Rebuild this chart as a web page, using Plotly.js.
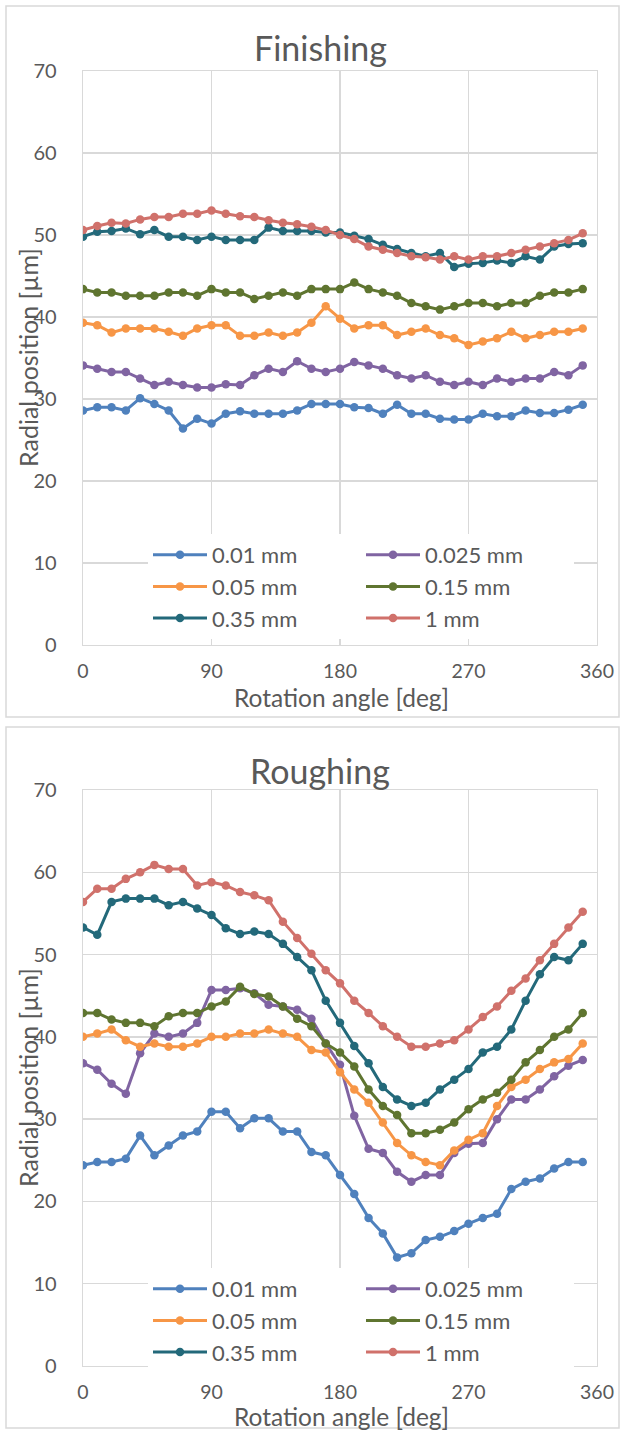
<!DOCTYPE html>
<html>
<head>
<meta charset="utf-8">
<script src="https://cdn.plot.ly/plotly-3.0.1.min.js"></script>
<style>
  html, body { margin: 0; padding: 0; background: #ffffff; }
  #chart { width: 625px; height: 1432px; }
</style>
</head>
<body>
<div id="chart"></div>
<script>
// Rotation angles of the measured points [deg]
const angles = [0, 10, 20, 30, 40, 50, 60, 70, 80, 90, 100, 110, 120, 130, 140, 150, 160, 170,
                180, 190, 200, 210, 220, 230, 240, 250, 260, 270, 280, 290, 300, 310, 320, 330, 340, 350];

const seriesNames = ['0.01 mm', '0.025 mm', '0.05 mm', '0.15 mm', '0.35 mm', '1 mm'];
const seriesColors = ['#4f81bd', '#8064a2', '#f79646', '#5f7530', '#23697a', '#d0716b'];

// Finishing: radial position [µm]
const fin_001 = [28.6, 29.0, 29.0, 28.6, 30.1, 29.4, 28.6, 26.4, 27.6, 27.0, 28.2, 28.5, 28.2, 28.2, 28.2, 28.6, 29.4, 29.4,
                 29.4, 29.0, 28.9, 28.2, 29.3, 28.2, 28.2, 27.6, 27.5, 27.5, 28.2, 27.9, 27.9, 28.6, 28.3, 28.3, 28.7, 29.3];
const fin_0025 = [34.1, 33.7, 33.3, 33.3, 32.5, 31.7, 32.1, 31.7, 31.4, 31.4, 31.8, 31.7, 32.9, 33.7, 33.3, 34.6, 33.7, 33.3,
                  33.7, 34.5, 34.1, 33.7, 32.9, 32.5, 32.9, 32.1, 31.7, 32.1, 31.7, 32.5, 32.1, 32.5, 32.5, 33.3, 32.9, 34.1];
const fin_005 = [39.3, 39.0, 38.1, 38.6, 38.6, 38.6, 38.2, 37.7, 38.6, 39.0, 39.0, 37.7, 37.7, 38.1, 37.7, 38.1, 39.3, 41.3,
                 39.8, 38.6, 39.0, 39.0, 37.8, 38.2, 38.6, 37.8, 37.4, 36.6, 37.0, 37.4, 38.2, 37.4, 37.8, 38.2, 38.2, 38.6];
const fin_015 = [43.4, 43.0, 43.0, 42.6, 42.6, 42.6, 43.0, 43.0, 42.6, 43.4, 43.0, 43.0, 42.2, 42.6, 43.0, 42.6, 43.4, 43.4,
                 43.4, 44.2, 43.4, 43.0, 42.6, 41.7, 41.3, 40.9, 41.3, 41.7, 41.7, 41.3, 41.7, 41.7, 42.6, 43.0, 43.0, 43.4];
const fin_035 = [49.8, 50.4, 50.5, 50.8, 50.1, 50.6, 49.8, 49.8, 49.4, 49.8, 49.4, 49.4, 49.4, 50.9, 50.5, 50.5, 50.5, 50.3,
                 50.3, 49.9, 49.5, 48.8, 48.3, 47.8, 47.4, 47.8, 46.1, 46.5, 46.6, 46.9, 46.6, 47.4, 47.0, 48.6, 48.9, 49.0];
const fin_1 = [50.6, 51.1, 51.5, 51.4, 51.9, 52.2, 52.2, 52.6, 52.6, 53.0, 52.6, 52.3, 52.2, 51.8, 51.5, 51.3, 51.0, 50.6,
               50.0, 49.5, 48.6, 48.2, 47.8, 47.4, 47.3, 47.0, 47.4, 47.0, 47.4, 47.4, 47.8, 48.2, 48.6, 49.0, 49.4, 50.2];

// Roughing: radial position [µm]
const rou_001 = [24.4, 24.8, 24.8, 25.2, 28.0, 25.6, 26.8, 28.0, 28.5, 30.9, 30.9, 28.9, 30.1, 30.1, 28.5, 28.5, 26.0, 25.6,
                 23.2, 20.9, 18.0, 16.1, 13.2, 13.7, 15.3, 15.7, 16.4, 17.3, 18.0, 18.5, 21.5, 22.4, 22.8, 24.0, 24.8, 24.8];
const rou_0025 = [36.8, 36.0, 34.3, 33.1, 38.0, 40.4, 40.0, 40.4, 41.7, 45.7, 45.7, 45.9, 45.3, 43.9, 43.7, 43.3, 42.2, 39.2,
                  36.6, 30.4, 26.4, 25.9, 23.6, 22.4, 23.2, 23.2, 25.9, 27.0, 27.1, 30.0, 32.4, 32.4, 33.6, 35.2, 36.5, 37.2];
const rou_005 = [40.0, 40.4, 40.9, 39.6, 38.8, 39.2, 38.8, 38.8, 39.2, 40.0, 40.0, 40.4, 40.4, 40.9, 40.4, 40.0, 38.4, 38.1,
                 35.7, 33.6, 32.0, 29.6, 27.1, 25.6, 24.8, 24.4, 26.2, 27.5, 28.3, 31.6, 33.9, 34.8, 36.1, 36.9, 37.3, 39.2];
const rou_015 = [42.9, 42.9, 42.1, 41.7, 41.7, 41.3, 42.5, 42.9, 42.9, 43.7, 44.3, 46.1, 45.2, 44.9, 43.7, 42.2, 41.3, 39.2,
                 38.1, 36.4, 33.6, 31.6, 30.5, 28.3, 28.3, 28.7, 29.6, 31.2, 32.4, 33.2, 34.8, 36.9, 38.4, 40.0, 40.9, 42.9];
const rou_035 = [53.3, 52.4, 56.4, 56.8, 56.8, 56.8, 56.0, 56.4, 55.6, 54.8, 53.2, 52.5, 52.8, 52.5, 51.3, 49.7, 48.1, 44.4,
                 41.7, 38.9, 36.8, 33.9, 32.4, 31.6, 32.0, 33.6, 34.8, 36.1, 38.1, 38.8, 40.9, 44.4, 47.6, 49.7, 49.3, 51.3];
const rou_1 = [56.4, 58.0, 58.0, 59.2, 60.0, 60.9, 60.4, 60.4, 58.4, 58.8, 58.4, 57.6, 57.2, 56.6, 54.0, 52.0, 50.1, 48.1,
               46.5, 44.4, 42.9, 41.3, 40.0, 38.8, 38.8, 39.2, 39.6, 40.9, 42.4, 43.7, 45.6, 47.1, 49.3, 51.3, 53.3, 55.2];

const xTicks = [0, 90, 180, 270, 360];
const chartTitles = ['Finishing', 'Roughing'];
const xTitle = 'Rotation angle [deg]';
const yTitle = 'Radial position [µm]';

const finishing = [fin_001, fin_0025, fin_005, fin_015, fin_035, fin_1];
const roughing = [rou_001, rou_0025, rou_005, rou_015, rou_035, rou_1];

const W = 625, H = 1432;
const FONT = 'Lato, "Open Sans", sans-serif';
const TXT = '#595959';
const GRID = '#d9d9d9';

function makeTraces(values, xa, ya, legendId) {
  return values.map((v, i) => ({
    type: 'scatter',
    mode: 'lines+markers',
    x: angles,
    y: v,
    name: seriesNames[i],
    xaxis: xa,
    yaxis: ya,
    legend: legendId,
    line: { color: seriesColors[i], width: 3 },
    marker: { color: seriesColors[i], size: 8.5 }
  }));
}

const traces = [
  ...makeTraces(finishing, 'x', 'y', 'legend'),
  ...makeTraces(roughing, 'x2', 'y2', 'legend2')
];

// pixel helpers (page coordinates -> paper fractions)
const px = v => v / W;
const py = v => 1 - v / H;

function xAxis(anchor) {
  return {
    anchor: anchor,
    domain: [px(83), px(597)],
    range: [0, 360],
    tickvals: xTicks,
    ticks: 'outside', ticklen: 8, tickcolor: 'rgba(0,0,0,0)',
    showgrid: true, gridcolor: GRID, gridwidth: 1.3,
    zeroline: false,
    showline: true, linecolor: GRID, linewidth: 1.3, mirror: true,
    tickfont: { family: FONT, size: 19.5, color: TXT }
  };
}
function yAxis(anchor, dom) {
  return {
    anchor: anchor,
    domain: dom,
    range: [0, 70],
    dtick: 10,
    ticks: 'outside', ticklen: 21, tickcolor: 'rgba(0,0,0,0)',
    showgrid: true, gridcolor: GRID, gridwidth: 1.3,
    zeroline: false,
    showline: true, linecolor: GRID, linewidth: 1.3, mirror: true,
    tickfont: { family: FONT, size: 20, color: TXT }
  };
}

function legendAt(topPx) {
  return {
    orientation: 'h',
    x: px(148), xanchor: 'left',
    y: py(topPx), yanchor: 'top',
    entrywidth: 144, entrywidthmode: 'pixels',
    bgcolor: '#ffffff',
    borderwidth: 0,
    font: { family: FONT, size: 22, color: TXT },
    itemwidth: 54,
    traceorder: 'normal'
  };
}

function label(text, x, y, size, angle) {
  return { text: text, xref: 'paper', yref: 'paper', x: px(x), y: py(y),
           xanchor: 'center', yanchor: 'middle', showarrow: false, textangle: angle || 0,
           font: { family: FONT, size: size, color: TXT } };
}

const layout = {
  width: W, height: H,
  margin: { l: 0, r: 0, t: 0, b: 0 },
  paper_bgcolor: '#ffffff',
  plot_bgcolor: '#ffffff',
  showlegend: true,
  xaxis: xAxis('y'),
  yaxis: yAxis('x', [py(645), py(71)]),
  xaxis2: xAxis('y2'),
  yaxis2: yAxis('x2', [py(1366), py(790)]),
  legend: legendAt(534),
  legend2: legendAt(1268),
  annotations: [
    label(chartTitles[0], 320, 48, 34),
    label(chartTitles[1], 320, 770, 34),
    label(xTitle, 341, 697, 24.5),
    label(xTitle, 341, 1416, 24.5),
    label(yTitle, 28, 358, 25, -90),
    label(yTitle, 28, 1078, 25, -90)
  ],
  shapes: [
    { type: 'rect', xref: 'paper', yref: 'paper', x0: px(6), x1: px(619), y0: py(717), y1: py(6),
      line: { color: GRID, width: 1.5 }, layer: 'below' },
    { type: 'rect', xref: 'paper', yref: 'paper', x0: px(6), x1: px(619), y0: py(1428), y1: py(727),
      line: { color: GRID, width: 1.5 }, layer: 'below' }
  ]
};

Plotly.newPlot('chart', traces, layout, { displayModeBar: false, staticPlot: true });
</script>
</body>
</html>
